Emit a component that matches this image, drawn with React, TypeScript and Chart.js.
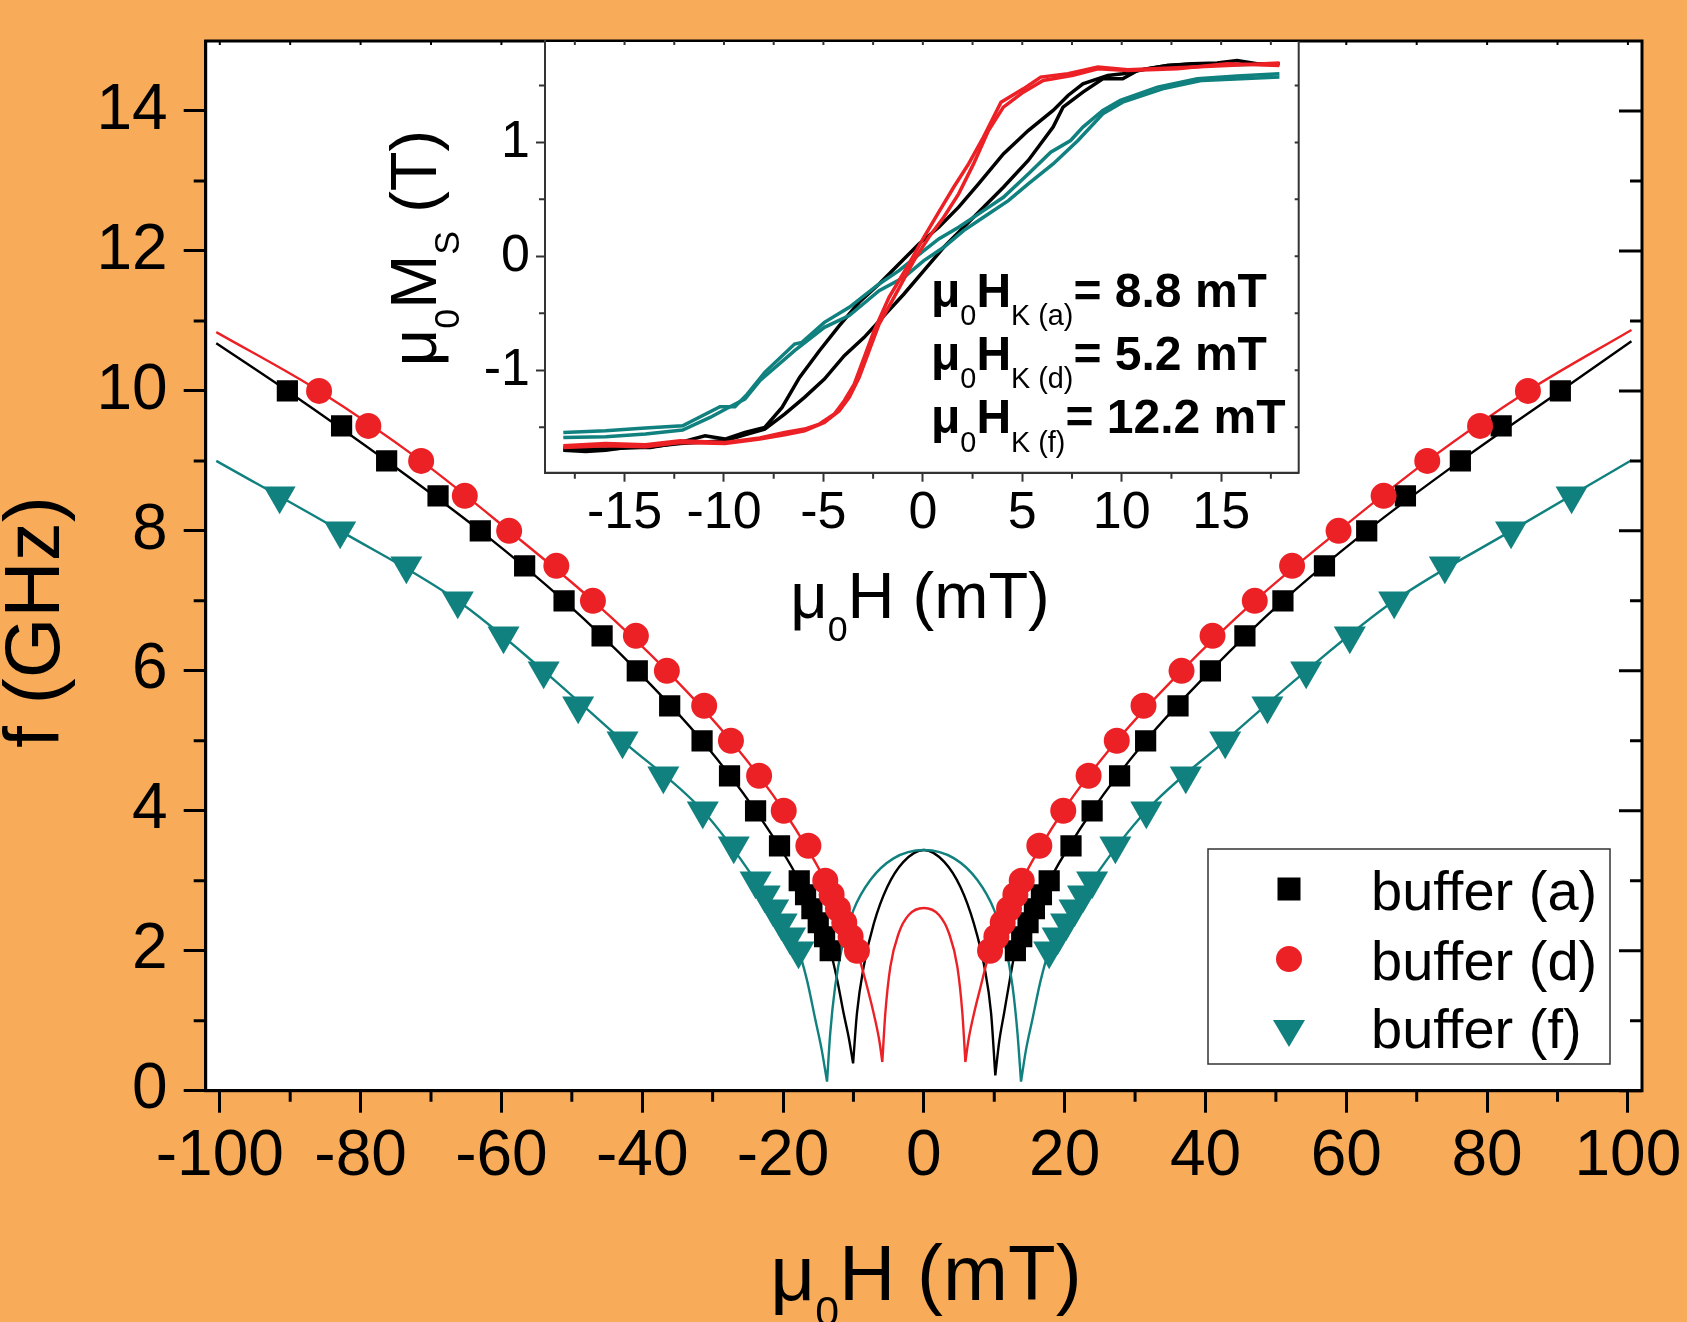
import React, { useEffect, useRef } from "react";
import { Chart, registerables } from "chart.js";

Chart.register(...registerables);

const W = 1687;
const H = 1322;
const BG = "#F8AC59";
const RED = "#EC2126";
const TEAL = "#10817F";
const INK = "#000000";
const FRAME2 = "#333333";
const FAMILY = "'Liberation Sans', Arial, Helvetica, sans-serif";

// ---------------- main plot: measured resonance points (μ0H in mT, f in GHz)
const fieldA = [-90.4, -82.7, -76.3, -69.0, -63.0, -56.7, -51.1, -45.7, -40.7, -36.1, -31.5, -27.6, -23.9, -20.5, -17.7, -16.8, -15.9, -15.0, -14.1, -13.3,
  13.0, 13.9, 14.8, 15.7, 16.7, 17.8, 20.9, 23.9, 27.8, 31.5, 36.1, 40.7, 45.6, 51.0, 56.9, 62.9, 68.4, 76.2, 82.0, 90.4];
const freqA = [10, 9.5, 9, 8.5, 8, 7.5, 7, 6.5, 6, 5.5, 5, 4.5, 4, 3.5, 3, 2.8, 2.6, 2.4, 2.2, 2,
  2, 2.2, 2.4, 2.6, 2.8, 3, 3.5, 4, 4.5, 5, 5.5, 6, 6.5, 7, 7.5, 8, 8.5, 9, 9.5, 10];

const fieldD = [-85.9, -78.9, -71.4, -65.2, -58.9, -52.2, -47.0, -40.9, -36.5, -31.2, -27.4, -23.4, -19.9, -16.4, -14.0, -13.1, -12.2, -11.3, -10.4, -9.5,
  9.4, 10.3, 11.2, 12.1, 13.0, 13.9, 16.4, 19.8, 23.4, 27.4, 31.2, 36.6, 41.0, 47.0, 52.3, 58.9, 65.3, 71.5, 79.0, 85.8];
const freqD = [10, 9.5, 9, 8.5, 8, 7.5, 7, 6.5, 6, 5.5, 5, 4.5, 4, 3.5, 3, 2.8, 2.6, 2.4, 2.2, 2,
  2, 2.2, 2.4, 2.6, 2.8, 3, 3.5, 4, 4.5, 5, 5.5, 6, 6.5, 7, 7.5, 8, 8.5, 9, 9.5, 10];

const fieldF = [-91.5, -82.9, -73.5, -66.2, -59.7, -54.0, -49.1, -42.8, -37.0, -31.4, -27.0, -23.9, -22.6, -21.4, -20.2, -19.0, -17.8,
  17.8, 19.0, 20.2, 21.4, 22.6, 23.9, 27.2, 31.6, 37.2, 42.8, 48.8, 54.3, 60.5, 66.8, 74.0, 83.4, 92.0];
const freqF = [8.5, 8, 7.5, 7, 6.5, 6, 5.5, 5, 4.5, 4, 3.5, 3, 2.8, 2.6, 2.4, 2.2, 2,
  2, 2.2, 2.4, 2.6, 2.8, 3, 3.5, 4, 4.5, 5, 5.5, 6, 6.5, 7, 7.5, 8, 8.5];

// ---------------- main plot: fit curves (null = break at the cusp)
const fitAH = [-100.5, -90.4, -76.3, -63.0, -51.1, -40.7, -31.5, -23.9, -17.7, -13.3, -12.3, -11.4, -10.65, -10.05, null,
  -10.05, -9.5, -8.55, -7.1, -5.2, -2.9, 0, 2.9, 5.2, 7.1, 8.6, 9.55, 10.15, null,
  10.15, 10.7, 11.4, 12.2, 13.0, 17.8, 23.9, 31.5, 40.7, 51.0, 62.9, 76.2, 90.4, 100.5];
const fitAF = [10.68, 10.0, 9.0, 8.0, 7.0, 6.0, 5.0, 4.0, 3.0, 2.0, 1.58, 1.11, 0.75, 0.39, null,
  0.39, 1.11, 1.77, 2.39, 2.91, 3.27, 3.44, 3.27, 2.91, 2.39, 1.77, 1.11, 0.22, null,
  0.22, 0.7, 1.11, 1.58, 2.0, 3.0, 4.0, 5.0, 6.0, 7.0, 8.0, 9.0, 10.0, 10.71];

const fitDH = [-100.5, -85.9, -71.4, -58.9, -47.0, -36.5, -27.4, -19.9, -14.0, -9.5, -8.1, -7.0, -6.3, -5.9, null,
  -5.9, -5.47, -4.76, -3.57, -2.15, 0, 2.15, 3.57, 4.76, 5.47, 5.9, null,
  5.9, 6.3, 7.0, 8.1, 9.4, 13.9, 19.8, 27.4, 36.6, 47.0, 58.9, 71.5, 85.8, 100.5];
const fitDF = [10.84, 10.0, 9.0, 8.0, 7.0, 6.0, 5.0, 4.0, 3.0, 2.0, 1.5, 1.05, 0.7, 0.41, null,
  0.41, 1.11, 1.77, 2.25, 2.51, 2.61, 2.51, 2.25, 1.77, 1.11, 0.41, null,
  0.41, 0.7, 1.05, 1.5, 2.0, 3.0, 4.0, 5.0, 6.0, 7.0, 8.0, 9.0, 10.0, 10.87];

const fitFH = [-100.5, -82.9, -66.2, -54.0, -42.8, -31.4, -23.9, -17.8, -16.6, -15.4, -14.5, -13.75, null,
  -13.75, -13.3, -12.6, -11.6, -10.0, -7.6, -4.3, 0, 4.3, 7.6, 10.0, 11.6, 12.6, 13.3, 13.8, null,
  13.8, 14.5, 15.4, 16.6, 17.8, 23.9, 31.6, 42.8, 54.3, 66.8, 83.4, 100.5];
const fitFF = [9.0, 8.0, 7.0, 6.0, 5.0, 4.0, 3.0, 2.0, 1.58, 1.01, 0.58, 0.13, null,
  0.13, 0.82, 1.49, 2.06, 2.58, 3.01, 3.32, 3.44, 3.32, 3.01, 2.58, 2.06, 1.49, 0.82, 0.13, null,
  0.13, 0.58, 1.01, 1.58, 2.0, 3.0, 4.0, 5.0, 6.0, 7.0, 8.0, 9.01];

// ---------------- inset: hysteresis loops (μ0H in mT, μ0Ms in T)
const loopA1H = [-18.08, -16.95, -15.95, -14.95, -13.7, -12.2, -10.95, -9.95, -8.95, -7.95, -7.08, -6.2, -5.2, -4.2, -3.2, -2.2, -1.2, -0.2, 0.8, 1.8, 2.8, 4.05, 5.3, 6.55, 7.3, 8.05, 9.3, 10.05, 11.3, 12.3, 13.55, 14.8, 15.8, 16.8, 17.93];
const loopA1M = [-1.702, -1.714, -1.702, -1.678, -1.678, -1.634, -1.576, -1.605, -1.547, -1.503, -1.327, -1.063, -0.829, -0.609, -0.404, -0.243, -0.067, 0.108, 0.255, 0.431, 0.636, 0.899, 1.104, 1.28, 1.412, 1.514, 1.588, 1.602, 1.646, 1.675, 1.69, 1.696, 1.719, 1.69, 1.69];
const loopA2H = [-18.08, -15.95, -13.7, -12.2, -9.95, -8.95, -7.95, -6.95, -5.95, -4.95, -3.95, -2.95, -1.95, -0.95, 0.05, 1.05, 2.05, 3.05, 4.05, 5.3, 6.55, 7.05, 8.05, 9.05, 10.05, 10.8, 12.3, 13.8, 15.3, 17.93];
const loopA2M = [-1.693, -1.693, -1.673, -1.643, -1.62, -1.567, -1.517, -1.385, -1.239, -1.078, -0.873, -0.712, -0.521, -0.331, -0.126, 0.079, 0.255, 0.431, 0.606, 0.841, 1.134, 1.309, 1.441, 1.558, 1.558, 1.632, 1.675, 1.69, 1.681, 1.69];

const loopD1H = [-18.08, -15.95, -13.95, -12.2, -9.95, -8.2, -6.95, -5.95, -5.2, -4.45, -3.95, -3.45, -2.95, -2.45, -1.7, -0.7, 0.05, 0.8, 1.55, 2.3, 3.05, 3.93, 5.05, 5.93, 7.3, 8.8, 10.3, 12.8, 15.3, 17.93];
const loopD1M = [-1.664, -1.643, -1.655, -1.62, -1.634, -1.596, -1.547, -1.517, -1.473, -1.385, -1.268, -1.122, -0.888, -0.653, -0.36, -0.067, 0.167, 0.387, 0.606, 0.811, 1.046, 1.353, 1.47, 1.573, 1.602, 1.661, 1.637, 1.655, 1.675, 1.696];
const loopD2H = [-18.08, -15.95, -13.95, -12.2, -9.95, -8.2, -6.95, -5.95, -4.95, -4.2, -3.7, -3.2, -2.7, -2.2, -1.45, -0.45, 0.3, 1.05, 1.8, 2.55, 3.3, 4.05, 5.05, 6.05, 7.55, 8.8, 10.3, 12.8, 15.3, 17.93];
const loopD2M = [-1.678, -1.664, -1.673, -1.634, -1.643, -1.605, -1.567, -1.532, -1.459, -1.356, -1.239, -1.063, -0.829, -0.595, -0.36, -0.038, 0.167, 0.343, 0.548, 0.811, 1.104, 1.309, 1.441, 1.544, 1.588, 1.646, 1.632, 1.646, 1.69, 1.675];

const loopF1H = [-18.08, -15.95, -13.95, -12.08, -10.2, -9.45, -8.83, -7.95, -6.45, -6.08, -4.95, -3.7, -2.2, -1.2, 0.05, 0.8, 1.8, 3.05, 4.05, 5.3, 6.43, 7.43, 8.05, 9.05, 9.93, 11.8, 13.8, 15.8, 17.93];
const loopF1M = [-1.547, -1.532, -1.508, -1.488, -1.321, -1.321, -1.21, -1.019, -0.77, -0.756, -0.58, -0.448, -0.243, -0.126, 0.05, 0.152, 0.255, 0.401, 0.518, 0.723, 0.914, 1.016, 1.134, 1.28, 1.368, 1.485, 1.558, 1.582, 1.602];
const loopF2H = [-18.08, -15.95, -13.95, -12.08, -10.7, -9.7, -8.95, -8.2, -6.45, -4.95, -3.7, -2.2, -0.95, 0.05, 1.05, 2.05, 3.05, 4.3, 5.3, 6.55, 7.8, 9.05, 10.05, 12.05, 14.05, 17.93];
const loopF2M = [-1.59, -1.585, -1.561, -1.526, -1.415, -1.321, -1.254, -1.093, -0.829, -0.624, -0.521, -0.302, -0.185, -0.038, 0.079, 0.226, 0.343, 0.489, 0.636, 0.811, 1.016, 1.251, 1.353, 1.47, 1.544, 1.573];

// ---------------- tick values
const mainYMajor = [0, 2, 4, 6, 8, 10, 12, 14];
const mainYMinor = [1, 3, 5, 7, 9, 11, 13];
const mainXMinor = [-90, -70, -50, -30, -10, 10, 30, 50, 70, 90];
const mainXTop = [-100, -90, -80, -70, -60, -50, -40, -30, -20, -10, 0, 10, 20, 30, 40, 50, 60, 70, 80, 90, 100];
const insetYMinor = [-1.5, -0.5, 0.5, 1.5];
const insetYAll = [-1.5, -1, -0.5, 0, 0.5, 1, 1.5];
const insetXMinor = [-17.5, -12.5, -7.5, -2.5, 2.5, 7.5, 12.5, 17.5];
const insetXAll = [-17.5, -15, -12.5, -10, -7.5, -5, -2.5, 0, 2.5, 5, 7.5, 10, 12.5, 15, 17.5];

const legendLabels = ["buffer (a)", "buffer (d)", "buffer (f)"];
const anisotropyLabels = [
  { sample: "K (a)", value: "= 8.8 mT" },
  { sample: "K (d)", value: "= 5.2 mT" },
  { sample: "K (f)", value: "= 12.2 mT" },
];

const pts = (xs: any[], ys: any[]) => xs.map((x, i) => ({ x, y: ys[i] }));

type Seg = { t: string; sub?: boolean; bold?: boolean };

function drawRich(ctx: any, segs: Seg[], x: number, y: number, size: number, align: string, subScale = 0.55, subDrop = 0.34) {
  const fontOf = (s: Seg) => `${s.bold ? "bold " : ""}${s.sub ? size * subScale : size}px ${FAMILY}`;
  let total = 0;
  const widths = segs.map((s) => {
    ctx.font = fontOf(s);
    const w = ctx.measureText(s.t).width;
    total += w;
    return w;
  });
  let cx = align === "center" ? x - total / 2 : x;
  ctx.textAlign = "left";
  ctx.textBaseline = "alphabetic";
  segs.forEach((s, i) => {
    ctx.font = fontOf(s);
    ctx.fillText(s.t, cx, s.sub ? y + size * subDrop : y);
    cx += widths[i];
  });
}

const noPad = (s: any) => {
  s.paddingTop = 0;
  s.paddingBottom = 0;
  s.paddingLeft = 0;
  s.paddingRight = 0;
};

const mainDecor = {
  id: "mainDecor",
  beforeDraw(chart: any) {
    const { ctx, chartArea: a } = chart;
    ctx.save();
    ctx.fillStyle = "#ffffff";
    ctx.fillRect(a.left, a.top, a.right - a.left, a.bottom - a.top);
    ctx.restore();
  },
  afterDraw(chart: any) {
    const { ctx, chartArea: a } = chart;
    const xs = chart.scales.x;
    const ys = chart.scales.y;
    ctx.save();
    ctx.strokeStyle = INK;
    ctx.lineWidth = 3;
    ctx.strokeRect(a.left, a.top, a.right - a.left, a.bottom - a.top);
    ctx.beginPath();
    for (const v of mainYMinor) {
      const p = ys.getPixelForValue(v);
      ctx.moveTo(a.left - 12, p); ctx.lineTo(a.left, p);
      ctx.moveTo(a.right, p); ctx.lineTo(a.right - 12, p);
    }
    for (const v of mainYMajor) {
      const p = ys.getPixelForValue(v);
      ctx.moveTo(a.right, p); ctx.lineTo(a.right - 23, p);
    }
    for (const v of mainXMinor) {
      const p = xs.getPixelForValue(v);
      ctx.moveTo(p, a.bottom); ctx.lineTo(p, a.bottom + 11);
    }
    ctx.stroke();
    ctx.lineWidth = 2;
    ctx.beginPath();
    for (const v of mainXTop) {
      const p = xs.getPixelForValue(v);
      ctx.moveTo(p, a.top); ctx.lineTo(p, a.top + 4);
    }
    ctx.stroke();

    // axis titles
    ctx.fillStyle = INK;
    drawRich(ctx, [{ t: "μ" }, { t: "0", sub: true }, { t: "H (mT)" }], 926, 1300, 78, "center", 0.55, 0.33);
    ctx.save();
    ctx.translate(59, 622);
    ctx.rotate(-Math.PI / 2);
    drawRich(ctx, [{ t: "f (GHz)" }], 0, 0, 78, "center");
    ctx.restore();

    // legend
    const lx = 1208, ly = 849, lw = 402, lh = 215;
    ctx.fillStyle = "#ffffff";
    ctx.fillRect(lx, ly, lw, lh);
    ctx.strokeStyle = FRAME2;
    ctx.lineWidth = 1.5;
    ctx.strokeRect(lx, ly, lw, lh);
    const mx = 1289;
    ctx.fillStyle = INK;
    ctx.fillRect(mx - 11.5, 889 - 11.5, 23, 23);
    ctx.fillStyle = RED;
    ctx.beginPath();
    ctx.arc(mx, 959, 13, 0, Math.PI * 2);
    ctx.fill();
    ctx.fillStyle = TEAL;
    ctx.beginPath();
    ctx.moveTo(mx - 16, 1020); ctx.lineTo(mx + 16, 1020); ctx.lineTo(mx, 1047); ctx.closePath();
    ctx.fill();
    ctx.fillStyle = INK;
    ctx.font = `56px ${FAMILY}`;
    ctx.textAlign = "left";
    ctx.textBaseline = "alphabetic";
    const bases = [910, 980, 1048];
    legendLabels.forEach((t, i) => ctx.fillText(t, 1371, bases[i]));
    ctx.restore();
  },
};

const insetDecor = {
  id: "insetDecor",
  beforeDraw(chart: any) {
    const { ctx, chartArea: a } = chart;
    ctx.save();
    ctx.fillStyle = "#ffffff";
    ctx.fillRect(a.left, a.top + 1, a.right - a.left, a.bottom - a.top - 1);
    ctx.restore();
  },
  afterDraw(chart: any) {
    const { ctx, chartArea: a } = chart;
    const xs = chart.scales.x;
    const ys = chart.scales.y;
    ctx.save();
    ctx.strokeStyle = FRAME2;
    ctx.lineWidth = 2;
    ctx.beginPath();
    ctx.moveTo(a.left, a.top); ctx.lineTo(a.left, a.bottom); ctx.lineTo(a.right, a.bottom); ctx.lineTo(a.right, a.top);
    ctx.stroke();
    ctx.beginPath();
    for (const v of insetYMinor) {
      const p = ys.getPixelForValue(v);
      ctx.moveTo(a.left - 6, p); ctx.lineTo(a.left, p);
    }
    for (const v of insetYAll) {
      const p = ys.getPixelForValue(v);
      ctx.moveTo(a.right, p); ctx.lineTo(a.right - 4, p);
    }
    for (const v of insetXMinor) {
      const p = xs.getPixelForValue(v);
      ctx.moveTo(p, a.bottom); ctx.lineTo(p, a.bottom + 6);
    }
    for (const v of insetXAll) {
      const p = xs.getPixelForValue(v);
      ctx.moveTo(p, a.top); ctx.lineTo(p, a.top + 4);
    }
    ctx.stroke();

    ctx.fillStyle = INK;
    drawRich(ctx, [{ t: "μ" }, { t: "0", sub: true }, { t: "H (mT)" }], 560, 598, 65, "center", 0.55, 0.36);
    ctx.save();
    ctx.translate(76, 228);
    ctx.rotate(-Math.PI / 2);
    drawRich(ctx, [{ t: "μ" }, { t: "0", sub: true }, { t: "M" }, { t: "S", sub: true }, { t: " (T)" }], 0, 0, 65, "center", 0.55, 0.36);
    ctx.restore();

    const bases = [286.7, 350, 413.3];
    anisotropyLabels.forEach((l, i) => {
      drawRich(ctx, [
        { t: "μ", bold: true },
        { t: "0", sub: true },
        { t: "H", bold: true },
        { t: l.sample, sub: true },
        { t: l.value, bold: true },
      ], 571, bases[i], 48, "left", 0.6, 0.38);
    });
    ctx.restore();
  },
};

export default function App() {
  const mainRef = useRef<HTMLCanvasElement | null>(null);
  const insetRef = useRef<HTMLCanvasElement | null>(null);

  useEffect(() => {
    if (!mainRef.current || !insetRef.current) return;
    const tickFont = (size: number) => ({ family: FAMILY, size });

    const main = new Chart(mainRef.current, {
      type: "scatter",
      data: {
        datasets: [
          { label: legendLabels[2], data: pts(fieldF, freqF), showLine: false, pointStyle: "triangle", pointRotation: 180, pointRadius: 18.5, pointBackgroundColor: TEAL, pointBorderWidth: 0, order: 0 },
          { label: legendLabels[1], data: pts(fieldD, freqD), showLine: false, pointStyle: "circle", pointRadius: 13, pointBackgroundColor: RED, pointBorderWidth: 0, order: 1 },
          { label: legendLabels[0], data: pts(fieldA, freqA), showLine: false, pointStyle: "rect", pointRadius: 15, pointBackgroundColor: INK, pointBorderWidth: 0, order: 2 },
          { label: "fit f", data: pts(fitFH, fitFF), showLine: true, borderColor: TEAL, borderWidth: 2.4, pointRadius: 0, cubicInterpolationMode: "monotone", order: 3 },
          { label: "fit d", data: pts(fitDH, fitDF), showLine: true, borderColor: RED, borderWidth: 2.4, pointRadius: 0, cubicInterpolationMode: "monotone", order: 4 },
          { label: "fit a", data: pts(fitAH, fitAF), showLine: true, borderColor: INK, borderWidth: 2.4, pointRadius: 0, cubicInterpolationMode: "monotone", order: 5 },
        ] as any,
      },
      options: {
        responsive: false,
        animation: false,
        devicePixelRatio: 1,
        layout: { padding: { top: 41, right: 45, left: 0, bottom: 0 } },
        plugins: { legend: { display: false }, tooltip: { enabled: false } },
        scales: {
          x: {
            type: "linear", min: -102, max: 102,
            afterFit: (s: any) => { s.height = 231.3; noPad(s); },
            ticks: { stepSize: 20, includeBounds: false, autoSkip: false, maxRotation: 0, minRotation: 0, font: tickFont(64), color: INK, padding: 6 },
            grid: { drawOnChartArea: false, drawTicks: true, tickLength: 22, tickWidth: 3, tickColor: INK },
            border: { display: true, color: INK, width: 3 },
          },
          y: {
            type: "linear", min: 0, max: 15,
            afterFit: (s: any) => { s.width = 205.7; noPad(s); },
            ticks: { stepSize: 2, includeBounds: false, autoSkip: false, font: tickFont(64), color: INK, padding: 16 },
            grid: { drawOnChartArea: false, drawTicks: true, tickLength: 22, tickWidth: 3, tickColor: INK },
            border: { display: true, color: INK, width: 3 },
          },
        },
      } as any,
      plugins: [mainDecor],
    });

    const inset = new Chart(insetRef.current, {
      type: "scatter",
      data: {
        datasets: [
          { label: "d up", data: pts(loopD1H, loopD1M), showLine: true, borderColor: RED, borderWidth: 3.5, pointRadius: 0, order: 0 },
          { label: "d down", data: pts(loopD2H, loopD2M), showLine: true, borderColor: RED, borderWidth: 3.5, pointRadius: 0, order: 0 },
          { label: "f up", data: pts(loopF1H, loopF1M), showLine: true, borderColor: TEAL, borderWidth: 3.5, pointRadius: 0, order: 1 },
          { label: "f down", data: pts(loopF2H, loopF2M), showLine: true, borderColor: TEAL, borderWidth: 3.5, pointRadius: 0, order: 1 },
          { label: "a up", data: pts(loopA1H, loopA1M), showLine: true, borderColor: INK, borderWidth: 3.5, pointRadius: 0, order: 2 },
          { label: "a down", data: pts(loopA2H, loopA2M), showLine: true, borderColor: INK, borderWidth: 3.5, pointRadius: 0, order: 2 },
        ] as any,
      },
      options: {
        responsive: false,
        animation: false,
        devicePixelRatio: 1,
        layout: { padding: { top: 21, right: 21.3, left: 0, bottom: 0 } },
        plugins: { legend: { display: false }, tooltip: { enabled: false } },
        scales: {
          x: {
            type: "linear", min: -19, max: 18.9,
            afterFit: (s: any) => { s.height = 187.3; noPad(s); },
            ticks: { stepSize: 5, includeBounds: false, autoSkip: false, maxRotation: 0, minRotation: 0, font: tickFont(52), color: INK, padding: 1 },
            grid: { drawOnChartArea: false, drawTicks: true, tickLength: 9, tickWidth: 2, tickColor: FRAME2 },
            border: { display: true, color: FRAME2, width: 2 },
          },
          y: {
            type: "linear", min: -1.9, max: 1.89,
            afterFit: (s: any) => { s.width = 185; noPad(s); },
            ticks: { stepSize: 1, includeBounds: false, autoSkip: false, font: tickFont(52), color: INK, padding: 6 },
            grid: { drawOnChartArea: false, drawTicks: true, tickLength: 9, tickWidth: 2, tickColor: FRAME2 },
            border: { display: true, color: FRAME2, width: 2 },
          },
        },
      } as any,
      plugins: [insetDecor],
    });

    return () => {
      main.destroy();
      inset.destroy();
    };
  }, []);

  return (
    <div style={{ position: "absolute", left: 0, top: 0, width: W, height: H, background: BG, overflow: "hidden" }}>
      <canvas ref={mainRef} width={W} height={H} style={{ position: "absolute", left: 0, top: 0 }} />
      <canvas ref={insetRef} width={960} height={640} style={{ position: "absolute", left: 360, top: 20 }} />
    </div>
  );
}
